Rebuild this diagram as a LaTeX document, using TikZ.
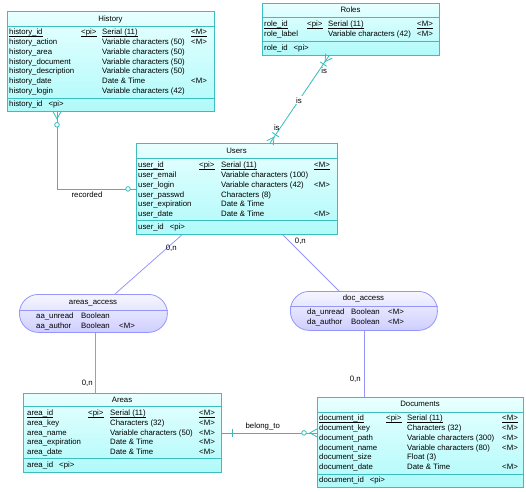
\documentclass[tikz,border=0pt]{standalone}
\usepackage{fontspec}
\setmainfont{Liberation Sans}
\usetikzlibrary{calc,positioning}

\definecolor{tblborder}{RGB}{60,190,190}
\definecolor{tbltop}{RGB}{232,255,255}
\definecolor{tblbot}{RGB}{176,250,250}
\definecolor{relline}{RGB}{50,190,190}
\definecolor{asborder}{RGB}{150,150,250}
\definecolor{astop}{RGB}{246,246,255}
\definecolor{asbot}{RGB}{206,206,255}

\begin{document}
\begin{tikzpicture}[x=1pt, y=-1pt,
	tbl/.style   = {draw=tblborder, line width=0.8pt, top color=tbltop, bottom color=tblbot, anchor=north west, inner sep=0pt},
	assoc/.style = {draw=asborder, line width=0.8pt, top color=astop, bottom color=asbot, anchor=north west, inner sep=0pt, rounded corners=19pt},
	sep/.style   = {draw=tblborder, line width=1pt},
	asep/.style  = {draw=asborder, line width=1pt},
	ttl/.style   = {font=\fontsize{7.8}{9}\selectfont, anchor=base, inner sep=0pt},
	attr/.style  = {font=\fontsize{7.8}{9}\selectfont, anchor=base west, inner sep=0pt},
	uline/.style = {draw=black, line width=0.5pt},
	rel/.style   = {draw=relline, line width=0.8pt},
	lnk/.style   = {draw=asborder, line width=0.8pt},
	lbl/.style   = {font=\fontsize{7.8}{9}\selectfont, inner sep=0pt}]

	\useasboundingbox (0,0) rectangle (526,491);

	% tables
	\node[tbl, minimum width=207pt, minimum height=100pt] (history) at (7,11) {};
	\node[tbl, minimum width=177pt, minimum height=52pt] (roles) at (262,3) {};
	\node[tbl, minimum width=201pt, minimum height=91pt] (users) at (136,143) {};
	\node[tbl, minimum width=198pt, minimum height=79pt] (areas) at (23,393) {};
	\node[tbl, minimum width=206pt, minimum height=90pt] (documents) at (317,397) {};

	% associations
	\node[assoc, minimum width=148pt, minimum height=38pt] (aa) at (19,294) {};
	\node[assoc, minimum width=147pt, minimum height=39pt] (da) at (290,291) {};

	\foreach \t/\a/\b in {history/26/98, roles/17/41, users/158/220, areas/406/458, documents/412/474}
	{
		\draw[sep] (\t.west |- 0,\a) -- (\t.east |- 0,\a);
		\draw[sep] (\t.west |- 0,\b) -- (\t.east |- 0,\b);
	}
	\draw[asep] (aa.west |- 0,310) -- (aa.east |- 0,310);
	\draw[asep] (da.west |- 0,306) -- (da.east |- 0,306);

	% History
	\node[ttl] (history-t) at (110.5,21.1) {History};
	\node[attr] (history-n0) at (9,34.9) {history\_id};
	\node[attr] (history-p0) at (81,34.9) {<pi>};
	\node[attr] (history-d0) at (102,34.9) {Serial (11)};
	\node[attr] (history-m0) at (191,34.9) {<M>};
	\foreach \n/\d/\m [count=\i] in {history\_action/Variable characters (50)/<M>, history\_area/Variable characters (50)/{}, history\_document/Variable characters (50)/{}, history\_description/Variable characters (50)/{}, history\_date/Date \& Time/<M>, history\_login/Variable characters (42)/{}}
	{
		\node[attr] (history-n\i) at (9,34.9+9.7*\i) {\n};
		\node[attr] (history-d\i) at (102,34.9+9.7*\i) {\d};
		\node[attr] (history-m\i) at (191,34.9+9.7*\i) {\m};
	}
	\node[attr] (history-k) at (9,106.6) {history\_id\hspace{6pt}<pi>};

	% Roles
	\node[ttl] (roles-t) at (350.5,12.6) {Roles};
	\node[attr] (roles-n0) at (264,26.6) {role\_id};
	\node[attr] (roles-p0) at (307,26.6) {<pi>};
	\node[attr] (roles-d0) at (328,26.6) {Serial (11)};
	\node[attr] (roles-m0) at (417,26.6) {<M>};
	\node[attr] (roles-n1) at (264,36.6) {role\_label};
	\node[attr] (roles-d1) at (328,36.6) {Variable characters (42)};
	\node[attr] (roles-m1) at (417,36.6) {<M>};
	\node[attr] (roles-k) at (264,50.6) {role\_id\hspace{6pt}<pi>};

	% Users
	\node[ttl] (users-t) at (236.5,153.6) {Users};
	\node[attr] (users-n0) at (138,167.6) {user\_id};
	\node[attr] (users-p0) at (199,167.6) {<pi>};
	\node[attr] (users-d0) at (221,167.6) {Serial (11)};
	\node[attr] (users-m0) at (314,167.6) {<M>};
	\foreach \n/\d/\m [count=\i] in {user\_email/Variable characters (100)/{}, user\_login/Variable characters (42)/<M>, user\_passwd/Characters (8)/{}, user\_expiration/Date \& Time/{}, user\_date/Date \& Time/<M>}
	{
		\node[attr] (users-n\i) at (138,167.6+9.8*\i) {\n};
		\node[attr] (users-d\i) at (221,167.6+9.8*\i) {\d};
		\node[attr] (users-m\i) at (314,167.6+9.8*\i) {\m};
	}
	\node[attr] (users-k) at (138,229.6) {user\_id\hspace{6pt}<pi>};

	% Areas
	\node[ttl] (areas-t) at (122,402.1) {Areas};
	\node[attr] (areas-n0) at (27,415.6) {area\_id};
	\node[attr] (areas-p0) at (88,415.6) {<pi>};
	\node[attr] (areas-d0) at (110,415.6) {Serial (11)};
	\node[attr] (areas-m0) at (199,415.6) {<M>};
	\foreach \n/\d/\m [count=\i] in {area\_key/Characters (32)/<M>, area\_name/Variable characters (50)/<M>, area\_expiration/Date \& Time/<M>, area\_date/Date \& Time/<M>}
	{
		\node[attr] (areas-n\i) at (27,415.6+9.75*\i) {\n};
		\node[attr] (areas-d\i) at (110,415.6+9.75*\i) {\d};
		\node[attr] (areas-m\i) at (199,415.6+9.75*\i) {\m};
	}
	\node[attr] (areas-k) at (27,467.6) {area\_id\hspace{6pt}<pi>};

	% Documents
	\node[ttl] (documents-t) at (420,406.6) {Documents};
	\node[attr] (documents-n0) at (319,420.6) {document\_id};
	\node[attr] (documents-p0) at (386,420.6) {<pi>};
	\node[attr] (documents-d0) at (407,420.6) {Serial (11)};
	\node[attr] (documents-m0) at (502,420.6) {<M>};
	\foreach \n/\d/\m [count=\i] in {document\_key/Characters (32)/<M>, document\_path/Variable characters (300)/<M>, document\_name/Variable characters (80)/<M>, document\_size/Float (3)/{}, document\_date/Date \& Time/<M>}
	{
		\node[attr] (documents-n\i) at (319,420.6+9.8*\i) {\n};
		\node[attr] (documents-d\i) at (407,420.6+9.8*\i) {\d};
		\node[attr] (documents-m\i) at (502,420.6+9.8*\i) {\m};
	}
	\node[attr] (documents-k) at (319,482.6) {document\_id\hspace{6pt}<pi>};

	% key attributes underlined
	\foreach \t in {history,roles,users,areas,documents}
		\foreach \c in {n,p,d,m}
			\draw[uline] ([yshift=-1.4pt]\t-\c0.base west) -- ([yshift=-1.4pt]\t-\c0.base east);

	% areas_access and doc_access
	\node[ttl] (aa-t) at (93,304.6) {areas\_access};
	\node[attr] (aa-n1) at (36,318.6) {aa\_unread};
	\node[attr] (aa-d1) at (81,318.6) {Boolean};
	\node[attr] (aa-n2) at (36,328.6) {aa\_author};
	\node[attr] (aa-d2) at (81,328.6) {Boolean};
	\node[attr] (aa-m2) at (119,328.6) {<M>};

	\node[ttl] (da-t) at (363.5,300.6) {doc\_access};
	\node[attr] (da-n1) at (307,314.6) {da\_unread};
	\node[attr] (da-d1) at (351,314.6) {Boolean};
	\node[attr] (da-m1) at (388,314.6) {<M>};
	\node[attr] (da-n2) at (307,324.6) {da\_author};
	\node[attr] (da-d2) at (351,324.6) {Boolean};
	\node[attr] (da-m2) at (388,324.6) {<M>};

	% connector ends
	\coordinate (rec-a) at ([xshift=50pt]history.south west);
	\coordinate (rec-b) at (rec-a |- users.west);
	\coordinate (is-a) at ([xshift=67pt]roles.south west);
	\coordinate (is-b) at ([xshift=134pt]users.north west);
	\coordinate (ua-a) at ([xshift=46pt]users.south west);
	\coordinate (ua-b) at ([xshift=96pt]aa.north west);
	\coordinate (ud-a) at ([xshift=-55pt]users.south east);
	\coordinate (ud-b) at ([xshift=49pt]da.north west);
	\coordinate (aa-s) at ([xshift=76pt]aa.south west);
	\coordinate (ar-n) at (aa-s |- areas.north);
	\coordinate (da-s) at ([xshift=74pt]da.south west);
	\coordinate (dd-n) at (da-s |- documents.north);
	\coordinate (bel-a) at (areas.east);
	\coordinate (bel-b) at (documents.west |- areas.east);

	% relationships
	\draw[rel] (rec-a) -- (rec-b) -- (users.west)
		node[lbl, pos=.38, below=3pt] (rec-l) {recorded};
	\draw[rel] (is-a) -- (is-b)
		node[lbl, pos=.17, right=2pt] (is-l1) {is}
		node[lbl, pos=.51, fill=white, inner sep=1pt] (is-l2) {is}
		node[lbl, pos=.83, left=0pt] (is-l3) {is};
	\draw[rel] (bel-a) -- (bel-b)
		node[lbl, pos=.43, above=2pt] (bel-l) {belong\_to};

	\foreach \a/\b in {rec-a/rec-b, is-a/is-b, is-b/is-a, bel-b/bel-a}
	{
		\coordinate (cf) at ($(\a)!7pt!(\b)$);
		\draw[rel] ($(\a)!4pt!90:(\b)$) -- (cf) -- ($(\a)!4pt!-90:(\b)$);
	}
	\foreach \a/\b/\s in {is-a/is-b/10pt, is-b/is-a/10pt, bel-a/bel-b/11pt}
	{
		\coordinate (br) at ($(\a)!\s!(\b)$);
		\draw[rel] ($(br)!4pt!90:(\b)$) -- ($(br)!4pt!-90:(\b)$);
	}
	\draw[rel, fill=white] ($(rec-a)!13pt!(rec-b)$) circle (2.3pt);
	\draw[rel, fill=white] ($(users.west)!8pt!(rec-b)$) circle (2.3pt);
	\draw[rel, fill=white] ($(bel-b)!13pt!(bel-a)$) circle (2.3pt);

	% links
	\draw[lnk] (ua-a) -- (ua-b) node[lbl, pos=.22, xshift=4pt] (ua-l) {0,n};
	\draw[lnk] (ud-a) -- (ud-b) node[lbl, pos=.12, right=5pt] (ud-l) {0,n};
	\draw[lnk] (aa-s) -- (ar-n) node[lbl, pos=.84, left=2pt] (ar-l) {0,n};
	\draw[lnk] (da-s) -- (dd-n) node[lbl, pos=.73, left=3pt] (dd-l) {0,n};

\end{tikzpicture}
\end{document}
